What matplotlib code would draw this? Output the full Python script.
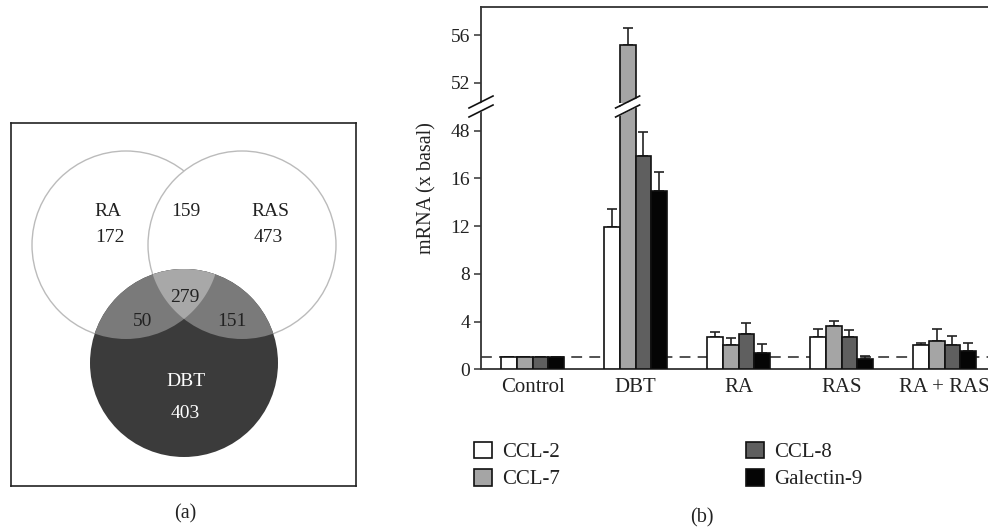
import numpy as np
import matplotlib
matplotlib.use('Agg')
import matplotlib.pyplot as plt
import matplotlib.patches as patches
from matplotlib.lines import Line2D

plt.rcParams['font.family'] = ['Liberation Serif', 'DejaVu Serif']

# ---- data ----
venn_labels = ['RA', 'RAS', 'DBT']
venn_counts = {'RA': 172, 'RAS': 473, 'DBT': 403,
               'RA&RAS': 159, 'RA&DBT': 50, 'RAS&DBT': 151, 'all': 279}

groups = ['Control', 'DBT', 'RA', 'RAS', 'RA + RAS']
genes = ['CCL-2', 'CCL-7', 'CCL-8', 'Galectin-9']
ccl2 = [1.0, 11.9, 2.7, 2.7, 2.0]
ccl2_err = [0.05, 1.5, 0.45, 0.65, 0.2]
ccl7 = [1.0, 55.2, 2.0, 3.6, 2.4]
ccl7_err = [0.05, 1.4, 0.6, 0.45, 0.95]
ccl8 = [1.0, 17.9, 2.95, 2.7, 2.0]
ccl8_err = [0.05, 1.95, 0.9, 0.55, 0.75]
gal9 = [1.0, 14.9, 1.35, 0.86, 1.55]
gal9_err = [0.05, 1.6, 0.8, 0.25, 0.65]
basal = 1.0

lower_ticks = [0, 4, 8, 12, 16, 20]
lower_ticklabels = ['0', '4', '8', '12', '16', '48']
upper_ticks = [52, 56]

W, H = 988, 531
fig = plt.figure(figsize=(W / 100, H / 100), dpi=100)


def px_rect(x0, y0, x1, y1):
    # pixel box (top-left origin) -> figure fraction rect
    return [x0 / W, 1 - y1 / H, (x1 - x0) / W, (y1 - y0) / H]


def fx(x):
    return x / W


def fy(y):
    return 1 - y / H


# ---- (a) Venn diagram ----
axv = fig.add_axes(px_rect(11, 123, 356, 486))
axv.set_xlim(11, 356)
axv.set_ylim(486, 123)
axv.set_xticks([])
axv.set_yticks([])
for s in axv.spines.values():
    s.set_linewidth(1.2)
    s.set_color('#222222')

r = 94
c_ra, c_ras, c_dbt = (126, 245), (242, 245), (184, 363)

for c in (c_ra, c_ras):
    axv.add_patch(patches.Circle(c, r, facecolor='white', edgecolor='#bbbbbb', lw=1.0, zorder=1))
dbt = patches.Circle(c_dbt, r, facecolor='#3b3b3b', edgecolor='none', zorder=2)
axv.add_patch(dbt)
for c in (c_ra, c_ras):
    p = patches.Circle(c, r, facecolor='#7a7a7a', edgecolor='none', zorder=3)
    axv.add_patch(p)
    p.set_clip_path(dbt)

# lens RA & RAS
d = c_ras[0] - c_ra[0]
th = np.arccos(d / (2 * r))
a1 = np.linspace(-th, th, 100)
a2 = np.linspace(np.pi - th, np.pi + th, 100)
lens = np.vstack([np.column_stack([c_ra[0] + r * np.cos(a1), c_ra[1] + r * np.sin(a1)]),
                  np.column_stack([c_ras[0] + r * np.cos(a2), c_ras[1] + r * np.sin(a2)])])
lp = patches.Polygon(lens, closed=True, facecolor='#a8a8a8', edgecolor='none', zorder=4)
axv.add_patch(lp)
lp.set_clip_path(dbt)

tk = dict(ha='center', va='center', fontsize=14, zorder=6)
axv.text(108, 212, venn_labels[0], color='#222222', **tk)
axv.text(110, 238, str(venn_counts['RA']), color='#222222', **tk)
axv.text(270, 212, venn_labels[1], color='#222222', **tk)
axv.text(268, 238, str(venn_counts['RAS']), color='#222222', **tk)
axv.text(186, 212, str(venn_counts['RA&RAS']), color='#222222', **tk)
axv.text(185, 298, str(venn_counts['all']), color='#222222', **tk)
axv.text(143, 321, str(venn_counts['RA&DBT']), color='#222222', **tk)
axv.text(232, 321, str(venn_counts['RAS&DBT']), color='#222222', **tk)
axv.text(186, 381, venn_labels[2], color='white', **tk)
axv.text(185, 413, str(venn_counts['DBT']), color='white', **tk)

fig.text(fx(185), fy(514), '(a)', ha='center', va='center', fontsize=14.5, color='#222222')

# ---- (b) bar chart with broken axis ----
px_per_unit = (369.3 - 35) / 28
y0_px = 369.3
lo_top, hi_bot, hi_top = 105, 103, 6.7
ax_lo = fig.add_axes(px_rect(481, lo_top, 996, y0_px))
ax_hi = fig.add_axes(px_rect(481, hi_top, 996, hi_bot))
ax_lo.set_ylim(0, (y0_px - lo_top) / px_per_unit)
ax_hi.set_ylim(28 + (y0_px - hi_bot) / px_per_unit, 28 + (y0_px - hi_top) / px_per_unit)

x = np.arange(len(groups))
w = 0.153
series = [(ccl2, ccl2_err, 'white'), (ccl7, ccl7_err, '#a5a5a5'),
          (ccl8, ccl8_err, '#5f5f5f'), (gal9, gal9_err, '#050505')]
bars = []
for ax in (ax_lo, ax_hi):
    for k, (vals, errs, col) in enumerate(series):
        xs = x + (k - 1.5) * w
        b = ax.bar(xs, vals, w, color=col, edgecolor='#111111', linewidth=1.2, zorder=3)
        ax.errorbar(xs, vals, yerr=[np.zeros(len(errs)), errs], fmt='none',
                    ecolor='#222222', elinewidth=1.2, capsize=3.5, capthick=1.2, zorder=2)
        if ax is ax_lo:
            bars.append(b)
    ax.set_xlim(-0.5, 4.5)

ax_lo.axhline(basal, color='#444444', lw=1.3, dashes=(6, 4), zorder=1)

for ax in (ax_lo, ax_hi):
    for s in ax.spines.values():
        s.set_linewidth(1.3)
        s.set_color('#333333')
    ax.spines['right'].set_visible(False)
    ax.tick_params(axis='y', direction='out', length=4.8, width=1.1, labelsize=14,
                   pad=3, color='#333333', labelcolor='#222222')
ax_lo.spines['top'].set_visible(False)
ax_hi.spines['bottom'].set_visible(False)
ax_lo.set_yticks(lower_ticks)
ax_lo.set_yticklabels(lower_ticklabels)
ax_hi.set_yticks(upper_ticks)
ax_hi.set_yticklabels([str(t) for t in upper_ticks])
ax_hi.set_xticks([])
ax_lo.set_xticks(x)
ax_lo.set_xticklabels(groups)
ax_lo.tick_params(axis='x', length=0, labelsize=15, pad=6, labelcolor='#222222')

fig.text(fx(427), fy(188), 'mRNA (x basal)', rotation=90, ha='center', va='center',
         fontsize=14.5, color='#222222')

# break marks (spine and DBT CCL-7 bar)
xb = ax_lo.transData.transform((x[1] - 0.5 * w, 0))[0]
for xc in (481, xb):
    gap = patches.Polygon([(fx(xc - 12), fy(109)), (fx(xc + 12), fy(97)),
                           (fx(xc + 12), fy(106)), (fx(xc - 12), fy(118))],
                          closed=True, transform=fig.transFigure, facecolor='white',
                          edgecolor='none', zorder=10)
    fig.add_artist(gap)
    for dy in (0, 9):
        fig.add_artist(Line2D([fx(xc - 12), fx(xc + 12)], [fy(108 + dy), fy(96 + dy)],
                              transform=fig.transFigure, color='#111111', lw=1.2, zorder=11))

fig.legend(bars, genes, ncol=2, loc='upper left', bbox_to_anchor=(fx(474), fy(441.5)),
           frameon=False, fontsize=15, handlelength=0.86, handleheight=0.86,
           handletextpad=0.5, columnspacing=8.9, labelspacing=0.32, borderpad=0,
           borderaxespad=0, labelcolor='#222222')

fig.text(fx(701.5), fy(518), '(b)', ha='center', va='center', fontsize=14.5, color='#222222')

fig.savefig('out.png', dpi=100)
